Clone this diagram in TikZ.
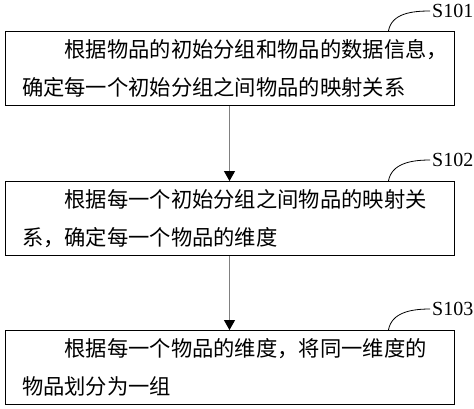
\documentclass[tikz,border=0pt]{standalone}
\usepackage{fontspec}
\setmainfont{Liberation Serif}
\newfontfamily\cjk{Noto Sans CJK SC}
\usetikzlibrary{positioning}
\usetikzlibrary{arrows.meta}
\usetikzlibrary{calc}
\usetikzlibrary{math}

\tikzset{
  stepbox/.style={draw, rectangle, line width=0.9pt, minimum width=449pt,
    minimum height=74pt, inner xsep=17pt, text width=415pt, align=left,
    font=\cjk\fontsize{21.3}{38}\selectfont},
  steplabel/.style={anchor=west, inner sep=2pt, font=\fontsize{20}{24}\selectfont},
  leader/.style={line width=0.8pt},
  flow/.style={draw=gray, line width=1pt, -{Triangle[width=11pt,length=10pt,color=black]}},
}

\begin{document}
\begin{tikzpicture}[x=1pt,y=1pt]

  \tikzmath{
    \lead = 66;  % distance of the leader foot from the right edge of a box
  }

  % margins of the whole picture
  \useasboundingbox (0,0) rectangle (474,-408);

  % the three steps
  \node[stepbox] (s101) at (229.5,-68.5)
    {\hspace*{2em}根据物品的初始分组和物品的数据信息，\\确定每一个初始分组之间物品的映射关系};
  \node[stepbox] (s102) at (229.5,-218.5)
    {\hspace*{2em}根据每一个初始分组之间物品的映射关\\系，确定每一个物品的维度};
  \node[stepbox] (s103) at (229.5,-367.5)
    {\hspace*{2em}根据每一个物品的维度，将同一维度的\\物品划分为一组};

  % step numbers and their leaders
  \node[steplabel] (l101) at (430,-11) {S101};
  \node[steplabel] (l102) at (430,-160) {S102};
  \node[steplabel] (l103) at (430,-309) {S103};
  \coordinate (f101) at ($(s101.north east)+(-\lead,0)$);
  \coordinate (f102) at ($(s102.north east)+(-\lead,0)$);
  \coordinate (f103) at ($(s103.north east)+(-\lead,0)$);
  \draw[leader] (f101) to[out=80,in=180] (l101.west);
  \draw[leader] (f102) to[out=80,in=180] (l102.west);
  \draw[leader] (f103) to[out=80,in=180] (l103.west);

  % flow between the steps
  \draw[flow] (s101.south) -- (s102.north);
  \draw[flow] (s102.south) -- (s103.north);

\end{tikzpicture}
\end{document}
